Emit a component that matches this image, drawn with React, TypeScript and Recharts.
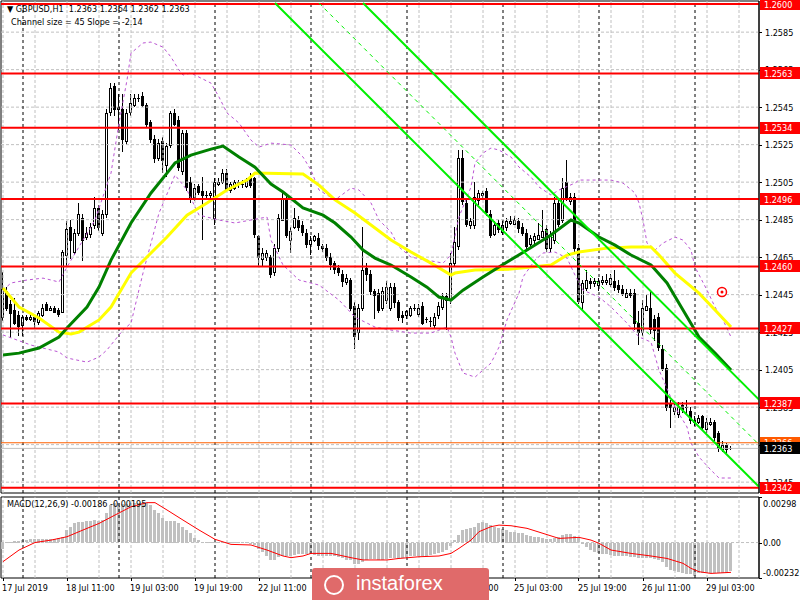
import React from "react"
import { ComposedChart, Bar, Line, XAxis, YAxis, ReferenceLine, ReferenceArea, ReferenceDot } from "recharts"

// GBPUSD H1 candles, prices in pips above 1.0000 (2433 -> 1.2433)
const openPips = [
  2433, 2447, 2440, 2437, 2434, 2429, 2433, 2432, 2433, 2430, 2434, 2440, 2437, 2438, 2437, 2436, 2466, 2481, 2468, 2478,
  2486, 2476, 2477, 2482, 2491, 2478, 2488, 2542, 2556, 2544, 2544, 2527, 2542, 2546, 2550, 2551, 2546, 2537, 2528, 2518,
  2527, 2514, 2525, 2542, 2538, 2511, 2531, 2505, 2497, 2503, 2500, 2498, 2498, 2486, 2504, 2505, 2510, 2501, 2502, 2505,
  2504, 2503, 2507, 2507, 2476, 2464, 2465, 2465, 2457, 2470, 2485, 2496, 2474, 2481, 2485, 2482, 2478, 2472, 2474, 2475,
  2471, 2470, 2465, 2462, 2459, 2456, 2452, 2453, 2439, 2425, 2438, 2459, 2456, 2447, 2446, 2438, 2442, 2438, 2449, 2441,
  2434, 2434, 2434, 2438, 2435, 2439, 2432, 2431, 2429, 2434, 2438, 2444, 2442, 2462, 2471, 2518, 2494, 2482, 2482, 2495,
  2498, 2500, 2488, 2477, 2483, 2478, 2481, 2483, 2483, 2484, 2481, 2478, 2472, 2474, 2475, 2476, 2480, 2470, 2474, 2494,
  2485, 2505, 2495, 2497, 2470, 2441, 2449, 2452, 2451, 2450, 2452, 2452, 2451, 2452, 2450, 2448, 2444, 2446, 2446, 2430,
  2425, 2437, 2438, 2432, 2433, 2416, 2406, 2387, 2383, 2381, 2386, 2385, 2383, 2378, 2377, 2380, 2373, 2376, 2377, 2371,
  2363, 2365, 2363,
]
const highPips = [
  2457, 2449, 2442, 2443, 2436, 2434, 2434, 2434, 2434, 2436, 2440, 2441, 2439, 2439, 2438, 2469, 2484, 2485, 2480, 2494,
  2488, 2481, 2483, 2497, 2493, 2490, 2544, 2558, 2558, 2552, 2552, 2544, 2552, 2552, 2552, 2553, 2547, 2538, 2530, 2528,
  2529, 2526, 2543, 2544, 2540, 2533, 2533, 2508, 2504, 2504, 2508, 2500, 2500, 2507, 2507, 2512, 2512, 2505, 2506, 2506,
  2506, 2507, 2510, 2508, 2477, 2470, 2469, 2466, 2472, 2488, 2500, 2498, 2481, 2491, 2487, 2484, 2480, 2476, 2477, 2478,
  2472, 2472, 2467, 2463, 2461, 2458, 2456, 2454, 2441, 2440, 2481, 2462, 2458, 2448, 2448, 2449, 2452, 2451, 2451, 2442,
  2436, 2437, 2439, 2440, 2440, 2441, 2433, 2433, 2435, 2441, 2446, 2446, 2467, 2481, 2522, 2522, 2496, 2486, 2505, 2501,
  2500, 2502, 2490, 2484, 2485, 2484, 2486, 2487, 2487, 2486, 2483, 2480, 2477, 2478, 2483, 2490, 2482, 2479, 2497, 2496,
  2507, 2517, 2499, 2499, 2472, 2453, 2458, 2454, 2454, 2454, 2455, 2456, 2456, 2458, 2453, 2450, 2448, 2448, 2448, 2436,
  2442, 2445, 2447, 2434, 2435, 2418, 2408, 2389, 2388, 2388, 2388, 2389, 2385, 2380, 2381, 2381, 2379, 2379, 2378, 2372,
  2367, 2366, 2364,
]
const lowPips = [
  2431, 2436, 2422, 2429, 2423, 2423, 2431, 2431, 2427, 2429, 2433, 2436, 2436, 2435, 2433, 2435, 2460, 2464, 2466, 2476,
  2463, 2474, 2475, 2480, 2479, 2476, 2486, 2540, 2540, 2533, 2521, 2525, 2540, 2545, 2548, 2545, 2534, 2526, 2515, 2516,
  2510, 2508, 2523, 2535, 2511, 2509, 2500, 2494, 2495, 2498, 2474, 2496, 2496, 2482, 2503, 2504, 2500, 2499, 2501, 2502,
  2502, 2502, 2502, 2475, 2460, 2460, 2463, 2454, 2455, 2468, 2484, 2475, 2467, 2480, 2479, 2476, 2470, 2466, 2473, 2469,
  2468, 2463, 2458, 2456, 2455, 2449, 2450, 2436, 2416, 2421, 2436, 2452, 2445, 2432, 2435, 2436, 2440, 2436, 2438, 2431,
  2430, 2432, 2433, 2436, 2433, 2429, 2430, 2428, 2427, 2432, 2437, 2426, 2440, 2460, 2469, 2493, 2481, 2480, 2480, 2493,
  2496, 2487, 2475, 2476, 2478, 2477, 2479, 2482, 2482, 2478, 2476, 2469, 2470, 2472, 2474, 2475, 2468, 2468, 2472, 2481,
  2483, 2495, 2493, 2468, 2440, 2436, 2447, 2448, 2449, 2447, 2450, 2450, 2449, 2447, 2446, 2444, 2443, 2443, 2426, 2418,
  2423, 2436, 2424, 2420, 2415, 2404, 2383, 2374, 2381, 2379, 2382, 2381, 2376, 2375, 2376, 2372, 2371, 2375, 2367, 2361,
  2361, 2360, 2362,
]
const closePips = [
  2448, 2438, 2435, 2430, 2428, 2433, 2432, 2433, 2431, 2435, 2438, 2437, 2438, 2436, 2435, 2468, 2480, 2474, 2478, 2488,
  2474, 2478, 2481, 2491, 2481, 2488, 2542, 2555, 2544, 2545, 2528, 2542, 2547, 2550, 2550, 2546, 2536, 2528, 2518, 2526,
  2517, 2524, 2542, 2536, 2513, 2531, 2502, 2497, 2502, 2500, 2498, 2498, 2499, 2505, 2505, 2510, 2501, 2504, 2505, 2504,
  2504, 2506, 2503, 2477, 2465, 2467, 2467, 2456, 2470, 2486, 2496, 2477, 2479, 2486, 2481, 2478, 2472, 2474, 2476, 2471,
  2470, 2465, 2461, 2459, 2457, 2452, 2454, 2438, 2423, 2438, 2458, 2456, 2447, 2445, 2437, 2447, 2449, 2449, 2441, 2433,
  2433, 2436, 2438, 2438, 2438, 2430, 2432, 2431, 2433, 2439, 2444, 2442, 2462, 2473, 2518, 2495, 2483, 2484, 2497, 2499,
  2499, 2489, 2477, 2482, 2480, 2482, 2484, 2484, 2485, 2480, 2478, 2471, 2475, 2476, 2477, 2479, 2470, 2477, 2494, 2483,
  2502, 2497, 2497, 2470, 2442, 2451, 2453, 2451, 2452, 2452, 2453, 2453, 2454, 2449, 2448, 2446, 2446, 2445, 2430, 2425,
  2438, 2439, 2427, 2426, 2417, 2406, 2385, 2385, 2385, 2385, 2384, 2385, 2378, 2377, 2379, 2374, 2377, 2377, 2369, 2363,
  2365, 2363, 2363,
]

// moving averages, read at a few bars
const yellowBars = [0, 4, 9, 14, 17, 19, 24, 27, 32, 37, 41, 46, 51, 56, 61, 63, 75, 79, 83, 88, 92, 97, 102, 107, 112, 113, 118, 127, 137, 141, 144, 151, 157, 162, 164, 168, 174, 178, 182]
const yellowPips = [2448.5, 2438.4, 2432.5, 2425.0, 2424.0, 2425.0, 2431.5, 2438.4, 2456.5, 2467.2, 2475.7, 2487.4, 2493.9, 2500.8, 2506.1, 2509.8, 2509.3, 2503.4, 2495.5, 2488.5, 2482.1, 2474.1, 2467.7, 2461.8, 2455.4, 2456.5, 2458.1, 2458.6, 2460.8, 2466.1, 2467.7, 2469.8, 2470.4, 2470.4, 2466.1, 2456.5, 2445.8, 2436.8, 2427.7]
const greenBars = [0, 4, 9, 14, 16, 21, 24, 27, 32, 37, 41, 43, 47, 52, 55, 59, 63, 67, 70, 75, 80, 83, 87, 90, 93, 97, 102, 106, 109, 112, 115, 120, 124, 131, 137, 142, 144, 149, 153, 157, 162, 166, 170, 174, 178, 182]
const greenPips = [2412.8, 2413.8, 2416.5, 2422.4, 2427.2, 2438.4, 2449.0, 2463.4, 2483.2, 2499.2, 2509.8, 2515.2, 2519.4, 2522.6, 2524.2, 2518.4, 2513.0, 2504.0, 2499.7, 2491.2, 2487.4, 2483.2, 2475.7, 2468.8, 2464.5, 2460.8, 2454.4, 2449.0, 2443.7, 2442.1, 2447.4, 2454.4, 2459.7, 2468.8, 2476.8, 2484.8, 2483.2, 2475.7, 2471.4, 2466.1, 2460.8, 2451.2, 2436.8, 2422.4, 2413.8, 2404.8]

// bollinger bands
const bandUpBars = [0, 2, 6, 10, 12, 14, 16, 20, 23, 27, 29, 31, 32, 35, 37, 40, 42, 44, 45, 47, 49, 52, 54, 56, 59, 62, 64, 67, 72, 75, 77, 79, 83, 87, 89, 92, 94, 97, 99, 102, 106, 110, 112, 114, 117, 118, 120, 122, 124, 127, 129, 132, 134, 137, 139, 143, 144, 152, 155, 158, 159, 160, 161, 163, 165, 168, 170, 172, 173, 176, 178, 180, 182]
const bandUpPips = [2447.4, 2451.2, 2452.8, 2453.8, 2452.8, 2451.7, 2459.7, 2474.1, 2484.8, 2509.8, 2536.5, 2559.4, 2573.8, 2579.2, 2579.7, 2577.0, 2571.7, 2564.8, 2562.1, 2563.2, 2561.0, 2557.8, 2550.4, 2541.9, 2536.5, 2527.4, 2523.7, 2525.8, 2524.8, 2518.4, 2511.4, 2500.8, 2495.5, 2501.8, 2500.8, 2493.9, 2484.8, 2478.4, 2470.4, 2465.0, 2463.4, 2461.8, 2466.1, 2486.4, 2502.4, 2515.2, 2520.5, 2523.2, 2522.1, 2518.4, 2513.0, 2507.7, 2502.4, 2498.1, 2500.8, 2504.5, 2506.1, 2506.1, 2504.5, 2499.2, 2493.9, 2484.8, 2472.5, 2468.8, 2472.5, 2475.7, 2474.1, 2468.8, 2459.7, 2447.4, 2438.4, 2431.5, 2422.4]
const bandLowBars = [0, 7, 14, 16, 21, 24, 26, 30, 32, 35, 39, 43, 46, 49, 54, 58, 62, 66, 67, 70, 74, 79, 84, 88, 93, 97, 102, 107, 111, 112, 113, 115, 118, 122, 124, 126, 129, 130, 133, 135, 138, 141, 143, 145, 149, 152, 156, 159, 162, 164, 168, 171, 172, 174, 177, 179, 182]
const bandLowPips = [2423.5, 2418.1, 2414.4, 2411.2, 2409.0, 2411.7, 2415.5, 2426.1, 2429.8, 2456.5, 2488.5, 2508.8, 2500.8, 2487.4, 2484.8, 2483.2, 2484.8, 2486.4, 2474.1, 2460.8, 2452.8, 2450.1, 2442.1, 2433.0, 2427.7, 2426.1, 2424.5, 2424.5, 2427.7, 2422.4, 2413.8, 2403.2, 2401.0, 2408.5, 2417.0, 2431.5, 2445.8, 2454.4, 2463.4, 2467.2, 2467.7, 2464.5, 2455.4, 2447.4, 2443.7, 2438.4, 2429.8, 2422.4, 2419.7, 2404.8, 2385.0, 2374.4, 2365.8, 2358.4, 2351.4, 2347.2, 2347.2]

// MACD(12,26,9): histogram per bar, signal read at a few bars
const macdHist = [
  -0.00038, 0.00005, 0.00005, 0.0001, 0.00012, 0.00016, 0.00016, 0.00021, 0.00021, 0.00023, 0.00023, 0.00025, 0.00025, 0.00025, 0.00027, 0.00038, 0.00082, 0.00104, 0.00125, 0.00132,
  0.00136, 0.0014, 0.00143, 0.00147, 0.00143, 0.00147, 0.00191, 0.00245, 0.00256, 0.00256, 0.00252, 0.00252, 0.00256, 0.00261, 0.00261, 0.00261, 0.00256, 0.00245, 0.00213, 0.00191,
  0.00158, 0.00143, 0.00143, 0.00143, 0.00125, 0.00104, 0.00082, 0.0006, 0.00027, 0.00016, 0.00005, 0.00001, 0.00001, 0.00002, 0.00003, 0.00004, 0.00003, 0.00002, 0.00002, 0.00001,
  0.00001, 0.00001, 0, -0.00016, -0.00038, -0.0006, -0.00082, -0.00114, -0.00114, -0.00093, -0.00082, -0.00082, -0.00082, -0.00077, -0.00075, -0.00071, -0.00075, -0.00075, -0.00077, -0.00082,
  -0.00082, -0.00082, -0.00082, -0.00088, -0.00093, -0.00099, -0.00108, -0.00114, -0.00136, -0.00136, -0.00125, -0.0011, -0.00104, -0.00104, -0.00108, -0.00108, -0.00104, -0.00099, -0.00099, -0.00104,
  -0.00099, -0.00093, -0.00088, -0.00084, -0.00082, -0.00082, -0.00082, -0.00077, -0.00075, -0.00066, -0.0006, -0.00049, -0.0002, 0.00016, 0.00049, 0.00082, 0.00086, 0.00093, 0.00104, 0.00125,
  0.00132, 0.00125, 0.00114, 0.00104, 0.00093, 0.00086, 0.00082, 0.00071, 0.00071, 0.00064, 0.0006, 0.00049, 0.00043, 0.00038, 0.00034, 0.00027, 0.00023, 0.00021, 0.00027, 0.00038,
  0.00049, 0.00053, 0.00056, 0.00043, 0.00027, -0.00001, -0.00027, -0.00045, -0.0006, -0.00066, -0.00071, -0.00075, -0.00077, -0.00082, -0.00082, -0.00082, -0.00086, -0.00093, -0.00093, -0.00097,
  -0.00099, -0.00099, -0.00099, -0.00104, -0.0011, -0.00125, -0.00154, -0.00175, -0.00186, -0.00191, -0.00197, -0.00202, -0.00206, -0.00213, -0.00197, -0.00197, -0.00197, -0.00197, -0.00197, -0.00197,
  -0.00197, -0.00197, -0.00186,
]
const signalBars = [0, 4, 8, 12, 16, 20, 24, 28, 32, 36, 38, 41, 45, 49, 53, 57, 62, 66, 70, 72, 75, 77, 82, 84, 87, 90, 96, 99, 104, 109, 112, 114, 117, 119, 122, 124, 127, 131, 135, 139, 144, 147, 149, 152, 157, 162, 166, 170, 172, 174, 177, 182]
const signalVals = [-0.00125, -0.00049, 0, 0.00016, 0.00038, 0.00082, 0.00125, 0.0018, 0.00234, 0.00261, 0.00261, 0.00213, 0.00147, 0.00082, 0.00021, -0.00012, -0.00016, -0.00049, -0.00088, -0.00099, -0.00088, -0.00071, -0.00071, -0.00082, -0.00099, -0.00114, -0.00114, -0.00104, -0.00093, -0.00088, -0.00071, -0.00038, 0.00016, 0.00071, 0.00104, 0.00114, 0.0011, 0.00093, 0.0006, 0.00027, 0.00034, 0.00016, -0.00005, -0.00049, -0.00071, -0.00088, -0.00104, -0.00136, -0.00169, -0.00191, -0.00202, -0.00195]

const levels = [1.26, 1.2563, 1.2534, 1.2496, 1.246, 1.2427, 1.2387, 1.2342]
const priceTicks = [1.2345, 1.2365, 1.2385, 1.2405, 1.2425, 1.2445, 1.2465, 1.2485, 1.2505, 1.2525, 1.2545, 1.2565, 1.2585]
const macdTicks = [-0.00232, 0, 0.00298]
const timeLabels = ["17 Jul 2019", "18 Jul 11:00", "19 Jul 03:00", "19 Jul 19:00", "22 Jul 11:00", "23 Jul 03:00", "23 Jul 19:00", "24 Jul 11:00", "25 Jul 03:00", "25 Jul 19:00", "26 Jul 11:00", "29 Jul 03:00"]
const timeLabelBars = [0, 16, 32, 48, 64, 80, 96, 112, 128, 144, 160, 176]
const gridBars = [0, 8, 16, 24, 32, 40, 48, 56, 64, 72, 80, 88, 96, 104, 112, 120, 128, 136, 144, 152, 160, 168, 176, 184]
const daySeparators = [5, 29, 53, 77, 101, 125, 149, 173]
// regression channel: [bar, price] at both ends
const channelLines = [
  { from: [68, 1.26005], to: [189, 1.23425], dashed: false },
  { from: [79, 1.26005], to: [189, 1.2365], dashed: true },
  { from: [90, 1.26005], to: [189, 1.2389], dashed: false },
]
const bid = 1.2363
const ask = 1.2366
const marker = { bar: 179.75, price: 1.24464 }

const X_DOMAIN = [-0.5, 189]
const P_DOMAIN = [1.23392, 1.26016]
const M_DOMAIN = [-0.00232, 0.00298]
const font = "'DejaVu Sans Condensed', 'DejaVu Sans', sans-serif"
const LIME = "#00f000"

const px = (p: number) => Math.round((1 + p / 10000) * 1e6) / 1e6

const rows: any[] = openPips.map((o, i) => ({
  i,
  o: px(o),
  h: px(highPips[i]),
  l: px(lowPips[i]),
  c: px(closePips[i]),
  hl: [px(lowPips[i]), px(highPips[i])],
}))
yellowBars.forEach((b, k) => (rows[b].yellow = px(yellowPips[k])))
greenBars.forEach((b, k) => (rows[b].green = px(greenPips[k])))
bandUpBars.forEach((b, k) => (rows[b].bandUp = px(bandUpPips[k])))
bandLowBars.forEach((b, k) => (rows[b].bandLow = px(bandLowPips[k])))

const macdRows: any[] = macdHist.map((v, i) => ({ i, hist: v }))
signalBars.forEach((b, k) => (macdRows[b].signal = signalVals[k]))

function Candle(props: any) {
  const { x, y, width, height, payload } = props
  if (!payload) return null
  const top = Math.min(y, y + height)
  const span = Math.abs(height)
  const { o, h, l, c } = payload
  const k = h > l ? span / (h - l) : 0
  const cx = Math.floor(x + width / 2)
  const yo = top + (h - o) * k
  const yc = top + (h - c) * k
  const bodyTop = Math.round(Math.min(yo, yc))
  const bodyH = Math.round(Math.abs(yo - yc))
  return (
    <g>
      <line x1={cx + 0.5} x2={cx + 0.5} y1={Math.round(top)} y2={Math.round(top + span)} stroke="#000" />
      {bodyH < 1 ? (
        <line x1={cx - 1} x2={cx + 2} y1={bodyTop + 0.5} y2={bodyTop + 0.5} stroke="#000" />
      ) : (
        <rect x={cx - 0.5} y={bodyTop + 0.5} width={2} height={bodyH} fill={c >= o ? "#fff" : "#000"} stroke="#000" />
      )}
    </g>
  )
}

function HistBar(props: any) {
  const { x, y, width, height } = props
  const top = Math.min(y, y + height)
  const cx = Math.floor(x + width / 2)
  return <rect x={cx - 1} y={Math.round(top)} width={3} height={Math.max(1, Math.round(Math.abs(height)))} fill="#c0c0c0" />
}

function PriceTick(props: any) {
  const { x, y, payload } = props
  return (
    <g>
      <line x1={x} x2={x + 3} y1={Math.round(y) + 0.5} y2={Math.round(y) + 0.5} stroke="#000" />
      <text x={x + 6} y={y + 3.5} fontSize={9} fontFamily={font} fill="#000">
        {payload.value.toFixed(4)}
      </text>
    </g>
  )
}

function MacdTick(props: any) {
  const { x, y, payload } = props
  const v = payload.value
  const dy = v > 0 ? 9.5 : v < 0 ? -2.5 : 3.5
  return (
    <g>
      <line x1={x} x2={x + 3} y1={Math.round(y) + 0.5} y2={Math.round(y) + 0.5} stroke="#000" />
      <text x={x + 4} y={y + dy} fontSize={9} fontFamily={font} fill="#000">
        {v === 0 ? "0.00" : v.toFixed(5)}
      </text>
    </g>
  )
}

function TimeTick(props: any) {
  const { x, y, payload } = props
  const k = timeLabelBars.indexOf(payload.value)
  return (
    <g>
      <line x1={Math.floor(x) + 0.5} x2={Math.floor(x) + 0.5} y1={y} y2={y + 3} stroke="#000" />
      <text x={x - 1} y={y + 13} fontSize={9} fontFamily={font} fill="#000">
        {timeLabels[k]}
      </text>
    </g>
  )
}

const tagShape = (label: string, bg: string) => (p: any) => (
  <g>
    <rect x={p.cx + 1} y={Math.round(p.cy) - 6} width={41} height={12} fill={bg} />
    <text x={p.cx + 5} y={p.cy + 3.5} fontSize={9} fontFamily={font} fill="#fff">
      {label}
    </text>
  </g>
)

function Target(p: any) {
  return (
    <g>
      <circle cx={p.cx} cy={p.cy} r={4.5} fill="#fff" stroke="#ff0000" strokeWidth={1.5} />
      <circle cx={p.cx} cy={p.cy} r={1.5} fill="#ff0000" />
    </g>
  )
}

function timeGrid() {
  return [
    ...gridBars.map((b) => <ReferenceLine key={"g" + b} x={b} stroke="#c0c0c0" strokeDasharray="3 2" />),
    ...daySeparators.map((b) => <ReferenceLine key={"d" + b} x={b} stroke="#000" strokeDasharray="3 3" />),
  ]
}

const mainMargin = { top: 1, right: 0, bottom: 1, left: 1 }

export default function App() {
  return (
    <div style={{ position: "fixed", left: 0, top: 0, width: 800, height: 600, background: "#fff", overflow: "hidden" }}>
      <div style={{ position: "absolute", left: 0, top: 0 }}>
        <ComposedChart width={800} height={494} data={rows} margin={mainMargin}>
          <XAxis dataKey="i" type="number" domain={X_DOMAIN} allowDataOverflow hide />
          <YAxis
            orientation="right"
            width={41}
            domain={P_DOMAIN}
            allowDataOverflow
            ticks={priceTicks}
            interval={0}
            tick={<PriceTick />}
            tickSize={0}
            tickMargin={0}
            tickLine={false}
            axisLine={{ stroke: "#000" }}
          />
          {priceTicks.map((t) => (
            <ReferenceLine key={"p" + t} y={t} stroke="#c0c0c0" strokeDasharray="3 2" />
          ))}
          {timeGrid()}
          <Bar dataKey="hl" barSize={3} shape={<Candle />} isAnimationActive={false} />
          <Line dataKey="bandUp" stroke="#ba55d3" strokeDasharray="3 3" dot={false} connectNulls isAnimationActive={false} />
          <Line dataKey="bandLow" stroke="#ba55d3" strokeDasharray="3 3" dot={false} connectNulls isAnimationActive={false} />
          <Line dataKey="yellow" stroke="#ffff00" strokeWidth={3} dot={false} connectNulls isAnimationActive={false} />
          <Line dataKey="green" stroke="#008000" strokeWidth={3} dot={false} connectNulls isAnimationActive={false} />
          {levels.map((lv) => (
            <ReferenceLine key={"l" + lv} y={lv} stroke="#ff0000" strokeWidth={2} />
          ))}
          <ReferenceLine y={ask} stroke="#ff6000" />
          <ReferenceLine y={bid} stroke="#c0c0c0" />
          {channelLines.map((ch, k) => (
            <ReferenceLine
              key={"c" + k}
              segment={[
                { x: ch.from[0], y: ch.from[1] },
                { x: ch.to[0], y: ch.to[1] },
              ]}
              stroke={LIME}
              strokeWidth={ch.dashed ? 1 : 2}
              strokeDasharray={ch.dashed ? "4 4" : undefined}
            />
          ))}
          <ReferenceDot x={marker.bar} y={marker.price} r={4} shape={Target} />
          <ReferenceArea x1={X_DOMAIN[0]} x2={X_DOMAIN[1]} y1={P_DOMAIN[0]} y2={P_DOMAIN[1]} fill="none" stroke="#000" fillOpacity={0} />
        </ComposedChart>
      </div>
      {/* price tags sit above the axis labels, so they get their own layer on the same scales */}
      <div style={{ position: "absolute", left: 0, top: 0 }}>
        <ComposedChart width={800} height={494} data={rows} margin={mainMargin}>
          <XAxis dataKey="i" type="number" domain={X_DOMAIN} allowDataOverflow hide />
          <YAxis orientation="right" width={41} domain={P_DOMAIN} allowDataOverflow tick={false} tickLine={false} axisLine={false} />
          {levels.map((lv) => (
            <ReferenceDot key={"t" + lv} x={X_DOMAIN[1]} y={lv} r={0} shape={tagShape(lv.toFixed(4), "#ff0000")} />
          ))}
          <ReferenceDot x={X_DOMAIN[1]} y={ask} r={0} shape={tagShape(ask.toFixed(4), "#ff5a00")} />
          <ReferenceDot x={X_DOMAIN[1]} y={bid} r={0} shape={tagShape(bid.toFixed(4), "#000")} />
        </ComposedChart>
      </div>
      <div style={{ position: "absolute", left: 0, top: 494 }}>
        <ComposedChart width={800} height={106} data={macdRows} margin={{ top: 3, right: 0, bottom: 0, left: 1 }}>
          <XAxis
            dataKey="i"
            type="number"
            domain={X_DOMAIN}
            allowDataOverflow
            ticks={timeLabelBars}
            interval={0}
            tick={<TimeTick />}
            tickSize={0}
            tickMargin={0}
            tickLine={false}
            axisLine={false}
            height={22}
          />
          <YAxis
            orientation="right"
            width={41}
            domain={M_DOMAIN}
            allowDataOverflow
            ticks={macdTicks}
            interval={0}
            tick={<MacdTick />}
            tickSize={0}
            tickMargin={0}
            tickLine={false}
            axisLine={{ stroke: "#000" }}
          />
          <ReferenceLine y={0} stroke="#c0c0c0" strokeDasharray="3 2" />
          {timeGrid()}
          <Bar dataKey="hist" barSize={3} shape={<HistBar />} isAnimationActive={false} />
          <Line dataKey="signal" stroke="#ff0000" dot={false} connectNulls isAnimationActive={false} />
          <ReferenceArea x1={X_DOMAIN[0]} x2={X_DOMAIN[1]} y1={M_DOMAIN[0]} y2={M_DOMAIN[1]} fill="none" stroke="#000" fillOpacity={0} />
        </ComposedChart>
      </div>
      <div style={{ position: "absolute", left: 7, top: 4, font: `9px ${font}`, whiteSpace: "pre", color: "#000" }}>
        {"▼ GBPUSD,H1  1.2363 1.2364 1.2362 1.2363"}
      </div>
      <div style={{ position: "absolute", left: 11, top: 17, font: `9px ${font}`, whiteSpace: "pre", color: "#000" }}>
        {"Channel size = 45 Slope = -2.14"}
      </div>
      <div style={{ position: "absolute", left: 7, top: 499, font: `9px ${font}`, whiteSpace: "pre", color: "#000" }}>
        {"MACD(12,26,9) -0.00186 -0.00195"}
      </div>
      <div
        style={{
          position: "absolute",
          left: 312,
          top: 568,
          width: 177,
          height: 40,
          background: "#e06a6a",
          borderRadius: 3,
        }}
      >
        <div style={{ position: "absolute", left: 12, top: 7, width: 16, height: 16, border: "2.5px solid #fff", borderRadius: "50%" }} />
        <div style={{ position: "absolute", left: 44, top: 4, color: "#fff", font: "20px 'Liberation Sans', sans-serif" }}>instaforex</div>
      </div>
    </div>
  )
}
